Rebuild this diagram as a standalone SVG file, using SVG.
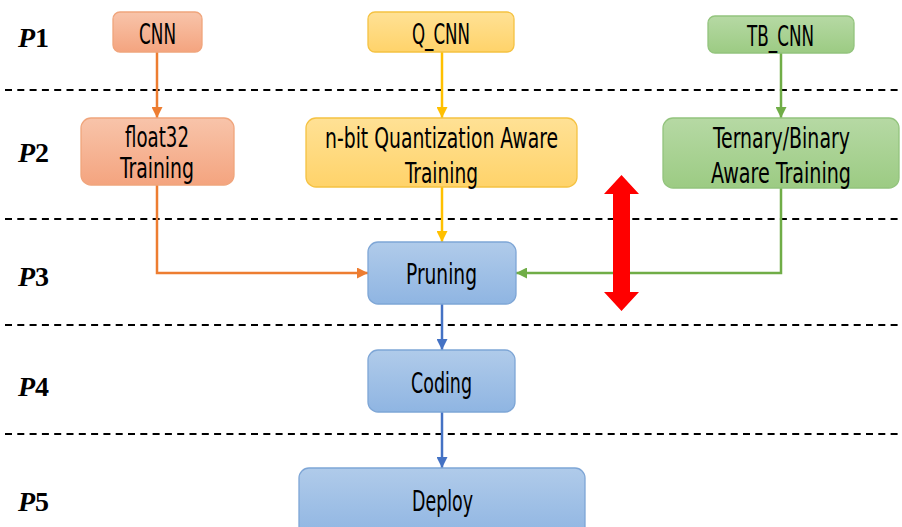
<svg xmlns="http://www.w3.org/2000/svg" width="902" height="527" viewBox="0 0 902 527">
<style>
.bg{fill:#ffffff}
.dash{stroke:#000;stroke-width:2.2;stroke-dasharray:7 5.3;fill:none}
.lbl{font-family:"DejaVu Sans Condensed","DejaVu Sans",sans-serif;font-stretch:condensed;font-size:28px;fill:#000}
.ph{font-family:"Liberation Serif",serif;font-size:28px;font-weight:bold;fill:#000}
.conn{fill:none;stroke-width:2.5}
.or{fill:url(#gOr);stroke:#f0a57c;stroke-width:1.3}
.ye{fill:url(#gYe);stroke:#f5c242;stroke-width:1.3}
.gr{fill:url(#gGr);stroke:#93c47d;stroke-width:1.3}
.bl{fill:url(#gBl);stroke:#7ea6d6;stroke-width:1.3}
</style>
<defs>
<linearGradient id="gOr" x1="0" y1="0" x2="0" y2="1"><stop offset="0" stop-color="#f8c4aa"/><stop offset="1" stop-color="#f4a47f"/></linearGradient>
<linearGradient id="gYe" x1="0" y1="0" x2="0" y2="1"><stop offset="0" stop-color="#ffe195"/><stop offset="1" stop-color="#ffd36a"/></linearGradient>
<linearGradient id="gGr" x1="0" y1="0" x2="0" y2="1"><stop offset="0" stop-color="#b6d9a4"/><stop offset="1" stop-color="#9ccb83"/></linearGradient>
<linearGradient id="gBl" x1="0" y1="0" x2="0" y2="1"><stop offset="0" stop-color="#b0cbea"/><stop offset="1" stop-color="#8fb5e2"/></linearGradient>
<marker id="aOr" markerUnits="userSpaceOnUse" markerWidth="11" markerHeight="11" refX="11" refY="5.5" orient="auto"><path d="M0,0 L11,5.5 L0,11 z" fill="#ed7d31"/></marker>
<marker id="aYe" markerUnits="userSpaceOnUse" markerWidth="11" markerHeight="11" refX="11" refY="5.5" orient="auto"><path d="M0,0 L11,5.5 L0,11 z" fill="#ffc000"/></marker>
<marker id="aGr" markerUnits="userSpaceOnUse" markerWidth="11" markerHeight="11" refX="11" refY="5.5" orient="auto"><path d="M0,0 L11,5.5 L0,11 z" fill="#70ad47"/></marker>
<marker id="aBl" markerUnits="userSpaceOnUse" markerWidth="11" markerHeight="11" refX="11" refY="5.5" orient="auto"><path d="M0,0 L11,5.5 L0,11 z" fill="#4472c4"/></marker>
</defs>
<rect class="bg" x="0" y="0" width="902" height="527"/>

<g id="separators">
<line class="dash" x1="5" y1="90" x2="902" y2="90"/>
<line class="dash" x1="5" y1="219" x2="902" y2="219"/>
<line class="dash" x1="5" y1="325" x2="902" y2="325"/>
<line class="dash" x1="5" y1="434" x2="902" y2="434"/>
</g>

<g id="phases">
<text class="ph" x="18" y="47"><tspan font-style="italic">P</tspan>1</text>
<text class="ph" x="18" y="162"><tspan font-style="italic">P</tspan>2</text>
<text class="ph" x="18" y="286"><tspan font-style="italic">P</tspan>3</text>
<text class="ph" x="18" y="396"><tspan font-style="italic">P</tspan>4</text>
<text class="ph" x="18" y="511"><tspan font-style="italic">P</tspan>5</text>
</g>

<g id="connectors">
<path class="conn" stroke="#ed7d31" d="M157,52 V118" marker-end="url(#aOr)"/>
<path class="conn" stroke="#ffc000" d="M442,52 V118" marker-end="url(#aYe)"/>
<path class="conn" stroke="#70ad47" d="M781,53 V118" marker-end="url(#aGr)"/>
<path class="conn" stroke="#ed7d31" d="M157,185 V273 H368" marker-end="url(#aOr)"/>
<path class="conn" stroke="#ffc000" d="M442,187 V242" marker-end="url(#aYe)"/>
<path class="conn" stroke="#70ad47" d="M781,188 V273 H516" marker-end="url(#aGr)"/>
<path class="conn" stroke="#4472c4" d="M442,304 V350" marker-end="url(#aBl)"/>
<path class="conn" stroke="#4472c4" d="M442,412 V468" marker-end="url(#aBl)"/>
</g>

<g id="red-arrow">
<polygon fill="#ff0000" points="621.5,175 639,194 630,194 630,292 639,292 621.5,311 604,292 613,292 613,194 604,194"/>
</g>

<g id="node-cnn">
<rect class="or" x="113" y="12" width="89" height="40" rx="7"/>
<text class="lbl" x="157.5" y="44" text-anchor="middle" textLength="37" lengthAdjust="spacingAndGlyphs">CNN</text>
</g>
<g id="node-qcnn">
<rect class="ye" x="368" y="12" width="146" height="40" rx="7"/>
<text class="lbl" x="441" y="44" text-anchor="middle" textLength="58" lengthAdjust="spacingAndGlyphs">Q_CNN</text>
</g>
<g id="node-tbcnn">
<rect class="gr" x="708" y="16" width="146" height="37" rx="7"/>
<text class="lbl" x="780.5" y="46" text-anchor="middle" textLength="67" lengthAdjust="spacingAndGlyphs">TB_CNN</text>
</g>

<g id="node-float32">
<rect class="or" x="81" y="118" width="153" height="67" rx="10"/>
<text class="lbl" x="157" y="147" text-anchor="middle" textLength="64" lengthAdjust="spacingAndGlyphs">float32</text>
<text class="lbl" x="157" y="178" text-anchor="middle" textLength="74" lengthAdjust="spacingAndGlyphs">Training</text>
</g>
<g id="node-nbit">
<rect class="ye" x="306" y="118" width="271" height="69" rx="10"/>
<text class="lbl" x="441.5" y="148" text-anchor="middle" textLength="233" lengthAdjust="spacingAndGlyphs">n-bit Quantization Aware</text>
<text class="lbl" x="441.5" y="183" text-anchor="middle" textLength="73" lengthAdjust="spacingAndGlyphs">Training</text>
</g>
<g id="node-ternary">
<rect class="gr" x="663" y="118" width="236" height="70" rx="10"/>
<text class="lbl" x="781.5" y="148" text-anchor="middle" textLength="137" lengthAdjust="spacingAndGlyphs">Ternary/Binary</text>
<text class="lbl" x="781" y="183" text-anchor="middle" textLength="140" lengthAdjust="spacingAndGlyphs">Aware Training</text>
</g>

<g id="node-pruning">
<rect class="bl" x="368" y="242" width="148" height="62" rx="10"/>
<text class="lbl" x="441.5" y="284" text-anchor="middle" textLength="71" lengthAdjust="spacingAndGlyphs">Pruning</text>
</g>
<g id="node-coding">
<rect class="bl" x="368" y="350" width="147" height="62" rx="10"/>
<text class="lbl" x="441.5" y="393" text-anchor="middle" textLength="61" lengthAdjust="spacingAndGlyphs">Coding</text>
</g>
<g id="node-deploy">
<rect class="bl" x="299" y="468" width="286" height="70" rx="10"/>
<text class="lbl" x="442.5" y="511" text-anchor="middle" textLength="61" lengthAdjust="spacingAndGlyphs">Deploy</text>
</g>
</svg>
